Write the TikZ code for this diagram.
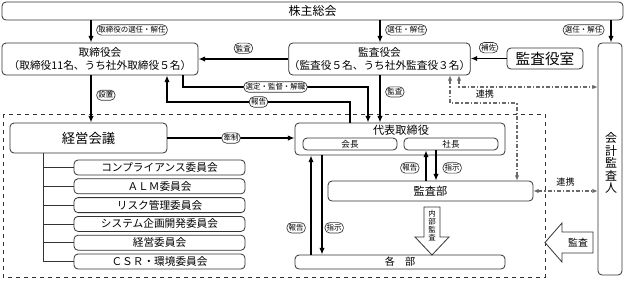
\documentclass[tikz,border=0pt]{standalone}
\usepackage{fontspec}
\setmainfont{Noto Sans CJK JP}
\usetikzlibrary{arrows.meta}

\definecolor{boxgray}{HTML}{333333}
\definecolor{linkgray}{HTML}{6A6A6A}

\tikzset{
  box/.style={draw=boxgray, line width=0.6pt, rounded corners=3pt, fill=white,
    inner sep=0pt, align=center},
  tag/.style={draw=boxgray, line width=0.5pt, rounded corners=3.5pt, fill=white,
    inner sep=1.3pt, font=\fontsize{5.6}{6}\selectfont},
  arr/.style={line width=1.2pt, -{Latex[length=5pt,width=4pt]}},
  link/.style={draw=linkgray, line width=1pt,
    dash pattern=on 3pt off 1.5pt on 1pt off 1.5pt,
    {Latex[length=4pt,width=3.5pt]}-{Latex[length=4pt,width=3.5pt]}},
  linktext/.style={text=black, inner sep=0pt, font=\fontsize{6.8}{7}\selectfont},
  committee/.style={box, minimum width=128.25pt, minimum height=11.25pt,
    font=\fontsize{8}{9}\selectfont},
  hollow/.style={draw=boxgray, line width=0.6pt, fill=white},
}

\begin{document}
\begin{tikzpicture}[x=0.75pt,y=-0.75pt]
\useasboundingbox (0,0) rectangle (625,280);

% Executive area
\draw[boxgray, line width=0.5pt, dashed] (3,114) rectangle (545,277);

% Top row
\node[box, minimum width=465.75pt, minimum height=13.5pt,
  font=\fontsize{9}{10}\selectfont] (kabu) at (312.5,11) {株主総会};

\node[box, minimum width=147pt, minimum height=24pt,
  font=\fontsize{8}{9.75}\selectfont] (tori) at (100,59)
  {取締役会\\（取締役11名、うち社外取締役５名）};

\node[box, minimum width=126.75pt, minimum height=24pt,
  font=\fontsize{8}{9.75}\selectfont] (kansayaku) at (379.5,59)
  {監査役会\\（監査役５名、うち社外監査役３名）};

\node[box, minimum width=57pt, minimum height=15.75pt,
  font=\fontsize{11}{12}\selectfont] (shitsu) at (545,58.5) {監査役室};

% Auditor
\node[box, minimum width=18pt, minimum height=174pt] (kaikei) at (610,159) {};
\node[align=center, inner sep=0pt, font=\fontsize{9}{9.4}\selectfont]
  (kaikeiT) at (611,163) {会\\計\\監\\査\\人};

% Management meeting and committees
\node[box, minimum width=117.75pt, minimum height=22.5pt,
  font=\fontsize{10}{11}\selectfont] (keiei) at (88.5,138) {経営会議};

\node[committee] (c1) at (159.5,167.5) {コンプライアンス委員会};
\node[committee] (c2) at (159.5,186.3) {ＡＬＭ委員会};
\node[committee] (c3) at (159.5,205.1) {リスク管理委員会};
\node[committee] (c4) at (159.5,223.9) {システム企画開発委員会};
\node[committee] (c5) at (159.5,242.7) {経営委員会};
\node[committee] (c6) at (159.5,261.5) {ＣＳＲ・環境委員会};

\coordinate (trunk) at (43,0);
\draw[boxgray, line width=0.6pt] (trunk |- keiei.south) -- (trunk |- c6.west);
\foreach \i in {1,...,6}
  \draw[boxgray, line width=0.6pt] (trunk |- c\i.west) -- (c\i.west);

% Representative directors
\node[box, minimum width=157.5pt, minimum height=24pt] (daihyo) at (400,139) {};
\node[inner sep=0pt, font=\fontsize{8.4}{9}\selectfont] (daihyoT) at (401,130) {代表取締役};
\node[box, minimum width=70.5pt, minimum height=9pt,
  font=\fontsize{6.4}{7}\selectfont] (kaicho) at (350,144) {会長};
\node[box, minimum width=70.5pt, minimum height=9pt,
  font=\fontsize{6.4}{7}\selectfont] (shacho) at (451,144) {社長};

\node[box, minimum width=153.75pt, minimum height=15pt,
  font=\fontsize{8.4}{9}\selectfont] (kansabu) at (430.5,191) {監査部};

\node[box, minimum width=157.5pt, minimum height=10.5pt,
  font=\fontsize{7.6}{8}\selectfont] (kakubu) at (400,262) {各　部};

% Appointments
\draw[arr] (91,0 |- kabu.south) -- node[tag, right=4pt, pos=0.43] {取締役の選任・解任} (91,0 |- tori.north);
\draw[arr] (380,0 |- kabu.south) -- node[tag, right=4pt, pos=0.43] {選任・解任} (380,0 |- kansayaku.north);
\draw[arr] (611,0 |- kabu.south) -- node[tag, left=5pt, pos=0.43] {選任・解任} (611,0 |- kaikei.north);

% Audit board
\draw[arr] (shitsu.west) -- node[tag, above=4pt] {補佐} (kansayaku.east |- shitsu.west);
\draw[arr] (kansayaku.west) -- node[tag, above=4pt] {監査} (tori.east);
\draw[arr] (380,0 |- kansayaku.south) -- node[tag, right=4pt, pos=0.35] {監査} (380,0 |- daihyo.north);

% Board and executives
\draw[arr] (91,0 |- tori.south) -- node[tag, right=4pt, pos=0.42] {設置} (91,0 |- keiei.north);
\draw[arr] (183,0 |- tori.south) |- node[tag, pos=0.75] {選定・監督・解職} (368,87) -- (368,0 |- daihyo.north);
\draw[arr] (350,0 |- daihyo.north) |- node[tag, pos=0.75] {報告} (167,102) -- (167,0 |- tori.south);
\draw[arr] (keiei.east) -- node[tag] {牽制} (daihyo.west |- keiei.east);

% Reporting lines
\draw[arr] (426,0 |- kansabu.north) -- node[tag, left=5pt, pos=0.42] {報告} (426,0 |- shacho.south);
\draw[arr] (436,0 |- shacho.south) -- node[tag, right=5pt, pos=0.58] {指示} (436,0 |- kansabu.north);
\draw[arr] (311,0 |- kakubu.north) -- node[tag, left=4pt, pos=0.27] {報告} (311,0 |- daihyo.south);
\draw[arr] (322,0 |- daihyo.south) -- node[tag, right=2pt, pos=0.73] {指示} (322,0 |- kakubu.north);

% Cooperation
\draw[link] (450,0 |- kansayaku.south) |- node[linktext, above=3pt, pos=0.76] {連携} (517,103) -- (517,0 |- kansabu.north);
\draw[link] (459,0 |- kansayaku.south) |- (kaikei.west |- 0,87);
\draw[link] (kansabu.east) -- node[linktext, above=3pt] {連携} (kaikei.west |- kansabu.east);

% Internal audit
\draw[hollow] (424,207) -- (440,207) -- (440,237) -- (449,237) -- (432,255)
  -- (415,237) -- (424,237) -- cycle;
\node[align=center, inner sep=0pt, font=\fontsize{5.6}{6}\selectfont]
  (naibu) at (432,226) {内\\部\\監\\査};

% External audit
\draw[hollow] (593,232) -- (562,232) -- (562,223) -- (545,242.5) -- (562,262)
  -- (562,253) -- (593,253) -- cycle;
\node[inner sep=0pt, font=\fontsize{7.4}{8}\selectfont] (gaibu) at (578,242.5) {監査};

\end{tikzpicture}
\end{document}
